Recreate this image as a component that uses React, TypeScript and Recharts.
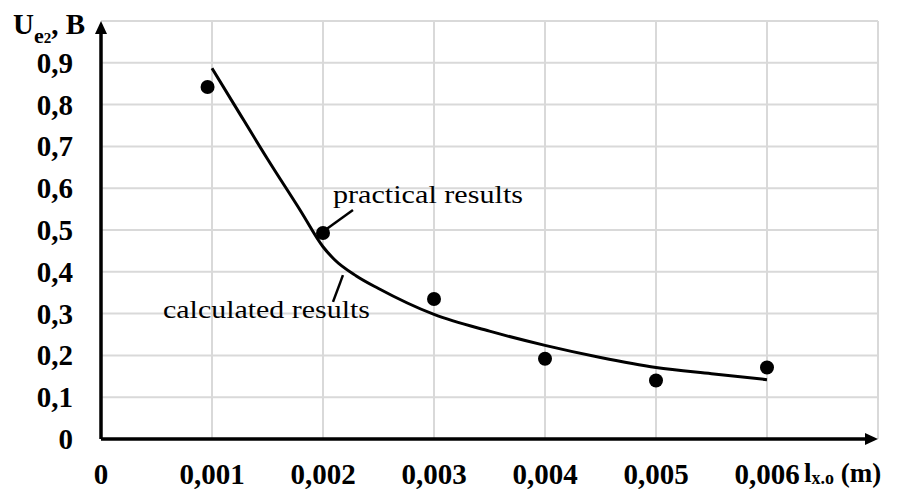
import {
  ComposedChart, Line, Scatter, XAxis, YAxis, CartesianGrid, ReferenceLine,
} from "recharts";

// calculated curve
const calcX = [0.001, 0.0012, 0.0015, 0.0018, 0.002, 0.0021, 0.0023, 0.0025, 0.003, 0.0035, 0.004, 0.0045, 0.005, 0.0055, 0.006];
const calcY = [0.887, 0.8, 0.67, 0.545, 0.46, 0.43, 0.39, 0.36, 0.298, 0.258, 0.224, 0.195, 0.171, 0.156, 0.142];

// practical (measured) points
const practX = [0.00096, 0.002, 0.003, 0.004, 0.005, 0.006];
const practY = [0.842, 0.493, 0.335, 0.192, 0.14, 0.171];

const xTicks = [0, 0.001, 0.002, 0.003, 0.004, 0.005, 0.006];
const yTicks = [0, 0.1, 0.2, 0.3, 0.4, 0.5, 0.6, 0.7, 0.8, 0.9];
const gridX = [0.001, 0.002, 0.003, 0.004, 0.005, 0.006, 0.007];
const gridY = [0.1, 0.2, 0.3, 0.4, 0.5, 0.6, 0.7, 0.8, 0.9, 1.0];

const calcData = calcX.map((x, i) => ({ x, y: calcY[i] }));
const practData = practX.map((x, i) => ({ x, y: practY[i] }));

const FONT = "'Liberation Serif', 'Times New Roman', serif";

const fmt = (v: number, d: number) => (v === 0 ? "0" : v.toFixed(d).replace(".", ","));

function YTick({ y, payload }: any) {
  return (
    <text x={73} y={y} dy={10} textAnchor="end" fontFamily={FONT} fontWeight="bold" fontSize={29} fill="#000">
      {fmt(payload.value, 1)}
    </text>
  );
}

function XTick({ x, y, payload }: any) {
  return (
    <text x={x} y={y} dy={37} textAnchor="middle" fontFamily={FONT} fontWeight="bold" fontSize={29} fill="#000">
      {fmt(payload.value, 3)}
    </text>
  );
}

function Arrow(props: any) {
  const { x1, y1, x2, y2 } = props;
  const dx = x2 - x1;
  const dy = y2 - y1;
  const len = Math.sqrt(dx * dx + dy * dy) || 1;
  const ux = dx / len;
  const uy = dy / len;
  const hl = 13;
  const hw = 6;
  const bx = x2 - ux * hl;
  const by = y2 - uy * hl;
  return (
    <g>
      <line x1={x1} y1={y1} x2={bx} y2={by} stroke="#000" strokeWidth={3.5} />
      <polygon
        points={`${x2},${y2} ${bx - uy * hw},${by + ux * hw} ${bx + uy * hw},${by - ux * hw}`}
        fill="#000"
      />
    </g>
  );
}

function Dot({ cx, cy }: any) {
  return <circle cx={cx} cy={cy} r={7} fill="#000" />;
}

export default function App() {
  return (
    <div style={{ position: "absolute", left: 0, top: 0, background: "#fff" }}>
      <ComposedChart width={901} height={490} margin={{ top: 21, right: 23, bottom: 0, left: 0 }}>
        <CartesianGrid
          stroke="#d9d9d9"
          strokeWidth={2}
          horizontalValues={gridY}
          verticalValues={gridX}
        />
        <XAxis
          type="number"
          dataKey="x"
          domain={[0, 0.007]}
          ticks={xTicks}
          axisLine={false}
          tickLine={false}
          height={51}
          tick={<XTick />}
          interval={0}
        />
        <YAxis
          type="number"
          dataKey="y"
          domain={[0, 1]}
          ticks={yTicks}
          axisLine={false}
          tickLine={false}
          width={101}
          tick={<YTick />}
          interval={0}
        />
        <ReferenceLine segment={[{ x: 0, y: 0 }, { x: 0.007, y: 0 }]} shape={<Arrow />} ifOverflow="visible" />
        <ReferenceLine segment={[{ x: 0, y: 0 }, { x: 0, y: 1.0 }]} shape={<Arrow />} ifOverflow="visible" />
        <ReferenceLine segment={[{ x: 0.00227, y: 0.548 }, { x: 0.00202, y: 0.5 }]} stroke="#000" strokeWidth={2.5} />
        <ReferenceLine segment={[{ x: 0.00218, y: 0.392 }, { x: 0.00209, y: 0.328 }]} stroke="#000" strokeWidth={2.5} />
        <Line
          data={calcData}
          dataKey="y"
          type="monotone"
          stroke="#000"
          strokeWidth={3}
          dot={false}
          activeDot={false}
          isAnimationActive={false}
        />
        <Scatter data={practData} dataKey="y" shape={<Dot />} isAnimationActive={false} />
        <text x={13} y={34} fontFamily={FONT} fontWeight="bold" fontSize={29} fill="#000">
          U
          <tspan fontSize={22} dy={9}>e</tspan>
          <tspan fontSize={15} dy={0}>2</tspan>
          <tspan fontSize={29} dy={-9}>, B</tspan>
        </text>
        <text x={804} y={482} fontFamily={FONT} fontWeight="bold" fontSize={27} fill="#000">
          l
          <tspan fontSize={18} dy={2}>x.o</tspan>
          <tspan fontSize={27} dy={-2}> (m)</tspan>
        </text>
        <text x={333} y={203} fontFamily={FONT} fontSize={26} fill="#000" textLength={190} lengthAdjust="spacingAndGlyphs">
          practical results
        </text>
        <text x={163} y={318} fontFamily={FONT} fontSize={26} fill="#000" textLength={207} lengthAdjust="spacingAndGlyphs">
          calculated results
        </text>
      </ComposedChart>
    </div>
  );
}
